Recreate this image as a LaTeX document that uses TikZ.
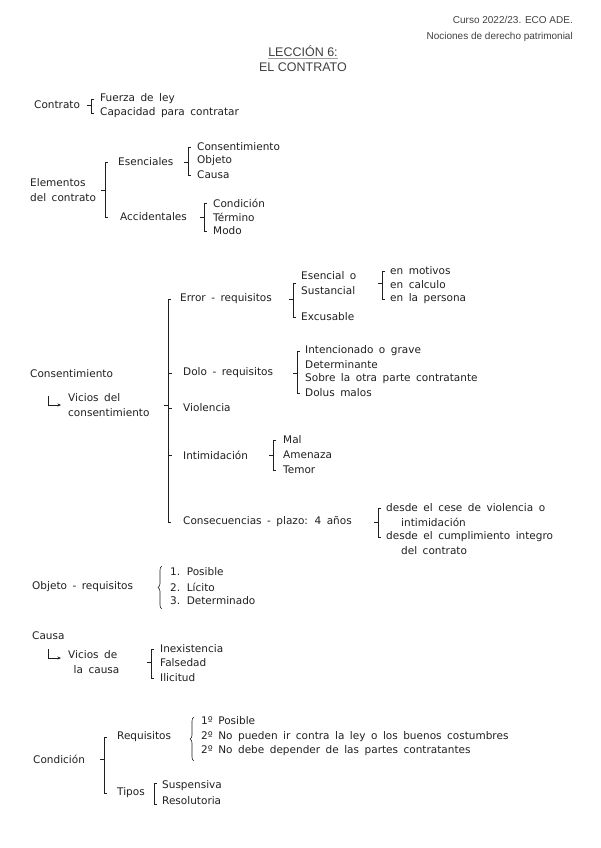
\documentclass[tikz,border=0pt]{standalone}
\usepackage{fontspec}
\setmainfont{DejaVu Sans}
\newfontfamily\cabfont{Liberation Sans}
\usetikzlibrary{arrows.meta, calc, decorations.pathreplacing}
\definecolor{tinta}{gray}{0.12}
\definecolor{grisCab}{gray}{0.25}
\newcommand{\mano}{\fontsize{10.5}{15}\selectfont\spaceskip 5.5pt plus 1pt\relax}

% corchete: padre, primer hijo, ultimo hijo, distancia al texto
\newcommand{\corchete}[4]{%
  \draw[trazo] let \p1=(#2.west), \p2=(#3.west), \p3=(#1.east) in
    (\x1-#4+3pt,\y1) -- (\x1-#4,\y1) -- (\x1-#4,\y2) -- (\x1-#4+3pt,\y2)
    (\x1-#4,\y3) -- (\x1-#4-4pt,\y3);}
% raya intermedia hacia un hijo
\newcommand{\ramal}[3]{%
  \draw[trazo] let \p1=(#1.west), \p2=(#2.west) in
    (\x1-#3,\y2) -- (\x1-#3+4pt,\y2);}
% llave curva: primer hijo, ultimo hijo, distancia, sobrante arriba, sobrante abajo
\newcommand{\llave}[5]{%
  \draw[trazo, decorate, decoration={brace, amplitude=4pt}]
    let \p1=(#1.west), \p2=(#2.west) in
    (\x1-#3,\y2-#5) -- (\x1-#3,\y1+#4);}

\begin{document}
\begin{tikzpicture}[x=1pt, y=-1pt,
  font=\mano,
  texto/.style={anchor=west, inner sep=0pt, align=left, text=tinta},
  cabecera/.style={inner sep=0pt, text=grisCab, font=\cabfont\fontsize{10}{12}\selectfont},
  titulo/.style={inner sep=0pt, text=grisCab, font=\cabfont\fontsize{12.5}{15}\selectfont},
  trazo/.style={draw=tinta, line width=0.6pt},
  flechita/.style={trazo, -{Stealth[length=3.5pt, width=3pt]}}
]
\useasboundingbox (0,0) rectangle (600,848);

% cabecera
\node[cabecera, anchor=east] (curso) at (573,20) {Curso 2022/23. ECO ADE.};
\node[cabecera, anchor=east] (nociones) at (573,37) {Nociones de derecho patrimonial};
\node[titulo] (leccion) at (303,51) {LECCIÓN 6:};
\node[titulo] (tema) at (303,67) {EL CONTRATO};
\draw[grisCab!50, line width=0.5pt] ([yshift=-2pt]leccion.south west) -- ([yshift=-2pt]leccion.south east);

% contrato
\node[texto] (contrato) at (34,105) {Contrato};
\node[texto] (fuerza) at (100,99) {Fuerza de ley};
\node[texto] (capacidad) at (100,113) {Capacidad para contratar};
\corchete{contrato}{fuerza}{capacidad}{9pt}

% elementos del contrato
\node[texto] (elementos) at (30,190) {Elementos\\del contrato};
\node[texto] (esenciales) at (118,162) {Esenciales};
\node[texto] (consent1) at (197,147) {Consentimiento};
\node[texto] (objeto1) at (197,161) {Objeto};
\node[texto] (causa1) at (197,175) {Causa};
\node[texto] (accidentales) at (120,217) {Accidentales};
\node[texto] (condicion1) at (213,203) {Condición};
\node[texto] (termino) at (213,217) {Término};
\node[texto] (modo) at (213,231) {Modo};
\corchete{elementos}{esenciales}{accidentales}{13pt}
\corchete{esenciales}{consent1}{causa1}{9pt}
\corchete{accidentales}{condicion1}{modo}{9pt}

% consentimiento
\node[texto] (consent) at (30,374) {Consentimiento};
\node[texto] (vicios) at (68,405) {Vicios del\\consentimiento};
\coordinate (arr1) at (48,396);
\draw[flechita] (arr1) |- ([xshift=-7pt]vicios.west);

\node[texto] (error) at (180,299) {Error - requisitos};
\node[texto] (esencial) at (301,283) {Esencial o\\Sustancial};
\node[texto] (excusable) at (301,317) {Excusable};
\node[texto] (motivos) at (390,271) {en motivos};
\node[texto] (calculo) at (390,285) {en calculo};
\node[texto] (persona) at (390,299) {en la persona};
\corchete{error}{esencial}{excusable}{8pt}
\corchete{esencial}{motivos}{persona}{8pt}

\node[texto] (dolo) at (183,373) {Dolo - requisitos};
\node[texto] (intencionado) at (305,351) {Intencionado o grave};
\node[texto] (determinante) at (305,365) {Determinante};
\node[texto] (sobre) at (305,379) {Sobre la otra parte contratante};
\node[texto] (dolus) at (305,393) {Dolus malos};
\corchete{dolo}{intencionado}{dolus}{8pt}

\node[texto] (violencia) at (183,408) {Violencia};

\node[texto] (intimidacion) at (183,455) {Intimidación};
\node[texto] (mal) at (283,440) {Mal};
\node[texto] (amenaza) at (283,455) {Amenaza};
\node[texto] (temor) at (283,470) {Temor};
\corchete{intimidacion}{mal}{temor}{10pt}

\node[texto] (consecuencias) at (183,522) {Consecuencias - plazo: 4 años};
\node[texto] (cese) at (386,508) {desde el cese de violencia o};
\node[texto] (intim2) at (401,522) {intimidación};
\node[texto] (cumplimiento) at (386,537) {desde el cumplimiento integro};
\node[texto] (delcontrato) at (401,551) {del contrato};
\corchete{consecuencias}{cese}{cumplimiento}{8pt}

\corchete{vicios}{error}{consecuencias}{12pt}
\ramal{error}{dolo}{12pt}
\ramal{error}{violencia}{12pt}
\ramal{error}{intimidacion}{12pt}

% objeto
\node[texto] (objeto) at (32,587) {Objeto - requisitos};
\node[texto] (posible) at (170,572) {1. Posible};
\node[texto] (licito) at (170,587) {2. Lícito};
\node[texto] (determinado) at (170,601) {3. Determinado};
\llave{posible}{determinado}{8pt}{6pt}{8pt}

% causa
\node[texto] (causa) at (32,636) {Causa};
\node[texto] (viciosc) at (68,662) {Vicios de\\\ la causa};
\coordinate (arr2) at (48,649);
\draw[flechita] (arr2) |- ([xshift=-7pt,yshift=4pt]viciosc.west);
\node[texto] (inexistencia) at (160,649) {Inexistencia};
\node[texto] (falsedad) at (160,663) {Falsedad};
\node[texto] (ilicitud) at (160,678) {Ilicitud};
\corchete{viciosc}{inexistencia}{ilicitud}{9pt}

% condicion
\node[texto] (condicion) at (33,759) {Condición};
\node[texto] (requisitos) at (117,737) {Requisitos};
\node[texto] (req1) at (201,721) {1º Posible};
\node[texto] (req2) at (201,737) {2º No pueden ir contra la ley o los buenos costumbres};
\node[texto] (req3) at (201,751) {2º No debe depender de las partes contratantes};
\llave{req1}{req3}{7pt}{4pt}{10pt}
\node[texto] (tipos) at (117,793) {Tipos};
\node[texto] (suspensiva) at (162,786) {Suspensiva};
\node[texto] (resolutoria) at (162,801) {Resolutoria};
\corchete{condicion}{requisitos}{tipos}{13pt}
\draw[trazo] let \p1=(suspensiva.west), \p2=(resolutoria.west) in
  (\x1-5pt,\y1+3pt) -- (\x1-8pt,\y1+3pt) -- (\x1-8pt,\y2-3pt) -- (\x1-5pt,\y2-3pt);

\end{tikzpicture}
\end{document}
